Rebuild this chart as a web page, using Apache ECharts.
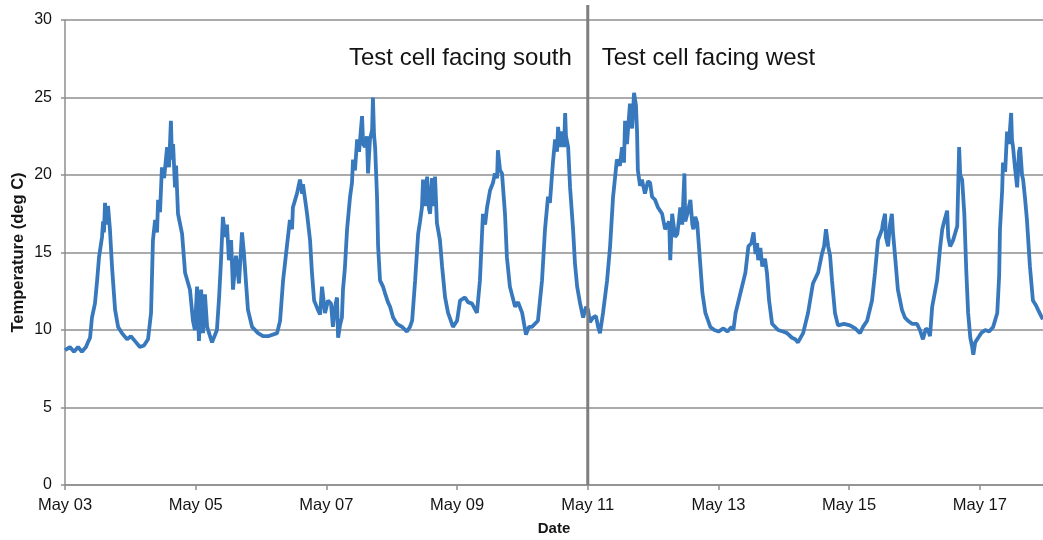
<!DOCTYPE html>
<html>
<head>
<meta charset="utf-8">
<script src="https://cdn.jsdelivr.net/npm/echarts@6/dist/echarts.min.js"></script>
<style>
  html, body { margin: 0; padding: 0; background: #fff; }
  #chart { width: 1043px; height: 540px; }
</style>
</head>
<body>
<div id="chart"></div>
<script>
// hours since May 03 00:00
const hours = [
  0, 1.8, 3.3, 4.8, 6.2, 7.7, 8.4, 9.2, 9.9, 11.0, 11.8, 12.5, 13.6, 14.0, 14.3, 14.7, 15.4, 15.8, 16.5, 17.3,
  18.4, 19.5, 20.9, 22.8, 24.2, 26.1, 27.5, 29.0, 30.5, 31.6, 32.3, 33.1, 33.8, 34.2, 34.9, 35.6, 36.4, 37.5, 38.2, 38.9,
  39.3, 39.7, 40.4, 40.8, 41.5, 43.0, 44.1, 45.9, 47.0, 47.7, 48.5, 49.2, 50.0, 50.7, 51.4, 52.2, 54.0, 55.8, 56.6, 57.3,
  58.0, 58.8, 59.5, 60.2, 61.0, 61.7, 62.8, 63.9, 65.0, 65.7, 66.1, 67.2, 68.7, 70.9, 72.7, 74.6, 77.9, 79.0, 80.1, 81.5,
  82.6, 83.4, 83.7, 85.2, 86.3, 87.1, 87.4, 88.2, 88.9, 90.0, 90.7, 91.5, 92.9, 93.7, 94.4, 95.5, 96.6, 97.7, 98.4, 99.2,
  99.9, 100.3, 101.0, 101.7, 102.1, 102.8, 103.6, 104.7, 105.4, 105.8, 106.5, 107.3, 108.0, 109.1, 109.5, 110.2, 110.9, 111.3, 112.0, 112.8,
  113.1, 113.5, 113.9, 114.6, 115.0, 115.7, 116.8, 117.5, 118.6, 119.4, 120.5, 121.9, 123.8, 125.6, 126.7, 127.5, 128.6, 129.7, 130.4, 131.1,
  131.5, 132.2, 133.0, 133.7, 134.1, 134.8, 135.5, 135.9, 136.6, 137.7, 138.5, 139.6, 140.7, 142.5, 144.0, 145.1, 146.9, 148.0, 149.5, 151.3,
  152.4, 153.5, 154.3, 155.0, 156.1, 157.2, 157.9, 158.7, 159.0, 159.8, 160.5, 161.6, 162.3, 163.4, 165.3, 166.4, 167.9, 169.3, 170.4, 171.5,
  173.7, 175.2, 176.3, 177.4, 178.1, 179.2, 180.0, 180.7, 181.1, 181.8, 182.5, 183.3, 183.7, 184.0, 184.8, 185.5, 186.6, 187.3, 188.1, 189.2,
  190.3, 191.4, 192.1, 192.8, 193.9, 195.0, 195.8, 196.5, 197.6, 199.1, 200.2, 201.3, 202.7, 203.8, 204.6, 205.3, 205.7, 206.4, 207.5, 208.3,
  209.0, 209.7, 210.1, 210.4, 211.2, 211.9, 213.0, 214.1, 214.9, 215.6, 216.7, 217.8, 219.3, 220.4, 221.1, 221.9, 222.3, 223.0, 224.1, 224.9,
  226.0, 226.7, 227.5, 227.8, 228.6, 229.7, 230.4, 230.8, 231.5, 232.2, 233.3, 234.1, 235.2, 237.0, 238.5, 240.0, 241.8, 243.3, 244.8, 245.5,
  246.3, 248.1, 249.9, 251.0, 252.1, 252.9, 253.6, 254.2, 254.6, 255.4, 256.1, 257.1, 257.8, 258.6, 259.7, 261.9, 263.7, 265.2, 267.0, 268.2,
  269.2, 271.1, 272.9, 274.7, 276.6, 278.0, 278.8, 279.5, 280.3, 281.0, 281.7, 282.8, 283.9, 286.1, 288.3, 290.2, 292.0, 293.1, 294.6, 296.4,
  297.5, 298.6, 299.3, 300.1, 300.4, 301.2, 301.5, 302.3, 303.0, 303.7, 304.1, 304.8, 305.9, 307.4, 308.5, 309.6, 311.1, 312.9, 314.0, 315.1,
  316.2, 317.0, 317.7, 318.5, 320.3, 321.4, 322.2, 322.9, 324.0, 324.4, 325.1, 326.2, 327.7, 328.4, 328.8, 329.5, 330.3, 331.0, 331.7, 332.5,
  333.2, 333.6, 334.3, 335.4, 336.5, 338.0, 339.4, 340.9, 342.4, 343.1, 343.4, 344.2, 344.5, 345.3, 346.0, 346.7, 347.5, 347.8, 348.2, 348.9,
  349.7, 350.4, 350.8, 351.5, 351.9, 352.6, 353.3, 354.4, 355.5, 356.6, 357.4, 358.8, 359.2
];

// temperature (deg C)
const temps = [
  8.7, 8.9, 8.6, 8.9, 8.6, 8.9, 9.2, 9.5, 10.8, 11.7, 13.2, 14.7, 16.0, 17.0, 16.3, 18.2, 16.8, 18.0, 16.5, 14.0,
  11.3, 10.2, 9.8, 9.4, 9.6, 9.2, 8.9, 9.0, 9.4, 11.1, 15.8, 17.1, 16.3, 18.4, 17.6, 20.5, 19.8, 21.8, 20.5, 23.5,
  21.0, 22.0, 19.2, 20.6, 17.5, 16.2, 13.7, 12.6, 10.6, 10.0, 12.8, 9.3, 12.6, 9.8, 12.3, 10.2, 9.2, 10.0, 12.1, 14.5,
  17.3, 16.0, 16.8, 14.5, 15.8, 12.6, 14.8, 13.0, 16.3, 15.0, 14.0, 11.3, 10.2, 9.8, 9.6, 9.6, 9.8, 10.6, 13.2, 15.4,
  17.1, 16.5, 17.9, 18.8, 19.7, 18.8, 19.4, 18.4, 17.5, 15.8, 13.7, 11.9, 11.3, 11.0, 12.8, 11.1, 11.9, 11.7, 10.2, 11.5,
  12.1, 9.5, 10.3, 10.8, 12.6, 14.0, 16.5, 18.6, 19.5, 21.0, 20.3, 22.3, 21.5, 23.8, 22.0, 21.8, 22.5, 20.1, 22.3, 22.9,
  25.0, 22.6, 21.8, 18.6, 15.4, 13.2, 12.8, 12.4, 11.8, 11.5, 10.8, 10.4, 10.2, 9.9, 10.2, 10.6, 13.2, 16.2, 17.0, 17.9,
  19.7, 18.0, 19.9, 17.8, 17.5, 19.8, 18.0, 19.9, 16.9, 15.8, 14.1, 12.1, 11.1, 10.2, 10.6, 11.9, 12.1, 11.8, 11.7, 11.1,
  13.2, 17.5, 16.8, 17.9, 19.0, 19.5, 20.1, 19.8, 21.6, 20.3, 20.1, 17.5, 14.7, 12.8, 11.5, 11.8, 11.1, 9.7, 10.2, 10.2,
  10.6, 13.2, 16.5, 18.6, 18.2, 20.8, 22.3, 21.5, 23.1, 21.8, 22.8, 21.8, 24.0, 22.5, 21.8, 19.2, 16.5, 14.3, 12.8, 11.7,
  10.8, 11.5, 11.3, 10.5, 10.8, 10.9, 10.2, 9.8, 11.1, 13.2, 15.4, 18.6, 21.0, 20.6, 21.8, 20.8, 23.5, 22.0, 24.6, 23.0,
  25.3, 24.5, 22.8, 20.3, 19.3, 19.7, 18.8, 19.6, 19.5, 18.6, 18.4, 17.9, 17.5, 16.5, 16.5, 17.0, 14.5, 17.5, 16.0, 16.2,
  17.9, 16.8, 20.1, 17.0, 17.5, 18.4, 16.8, 16.5, 17.3, 16.9, 14.3, 12.4, 11.1, 10.2, 10.0, 9.9, 10.1, 9.9, 10.2, 10.0,
  11.1, 12.4, 13.7, 15.4, 15.6, 16.3, 14.9, 15.6, 14.5, 15.3, 14.1, 14.6, 13.7, 11.9, 10.4, 10.0, 9.9, 9.8, 9.5, 9.4,
  9.2, 9.8, 11.1, 13.0, 13.7, 14.9, 15.4, 16.5, 15.4, 14.8, 13.2, 11.1, 10.3, 10.4, 10.3, 10.1, 9.8, 10.2, 10.6, 11.9,
  13.7, 15.8, 15.8, 16.5, 16.9, 17.5, 16.0, 15.4, 16.8, 17.5, 16.3, 14.9, 12.6, 11.3, 10.8, 10.6, 10.4, 10.4, 10.0, 9.4,
  10.1, 10.0, 9.6, 11.5, 13.2, 15.3, 16.5, 17.0, 17.7, 16.0, 15.4, 15.8, 16.7, 21.8, 20.0, 19.7, 17.5, 13.9, 11.1, 9.5,
  8.9, 8.4, 9.2, 9.5, 9.8, 10.0, 9.9, 10.2, 11.1, 13.5, 16.5, 19.0, 20.8, 20.2, 22.8, 22.0, 24.0, 22.3, 21.8, 20.5,
  19.2, 21.5, 21.8, 20.0, 19.7, 18.5, 17.1, 14.1, 11.9, 11.6, 11.3, 10.8, 10.7
];

const tickLabels = ["May 03", "May 05", "May 07", "May 09", "May 11", "May 13", "May 15", "May 17"];
const dividerHour = 192; // May 11 00:00
const notes = ["Test cell facing south", "Test cell facing west"];

const FONT = "Liberation Sans, Arial, sans-serif";
const GRID_GRAY = "#8f8f8f";
const INK = "#141414";

const chart = echarts.init(document.getElementById("chart"), null, { renderer: "canvas" });
const xMax = hours[hours.length - 1];

chart.setOption({
  animation: false,
  textStyle: { fontFamily: FONT },
  grid: [
    { left: 65, right: 0, top: 20, bottom: 55, outerBoundsMode: "none" },
    { left: 65, right: 0, top: 5, bottom: 55, outerBoundsMode: "none" },
  ],
  xAxis: [
    {
      type: "value",
      gridIndex: 0,
      min: 0,
      max: xMax,
      interval: 48,
      name: "Date",
      nameLocation: "middle",
      nameGap: 36,
      nameTextStyle: { fontWeight: "bold", fontSize: 15, color: INK, fontFamily: FONT },
      axisLine: { lineStyle: { color: GRID_GRAY, width: 1.5 } },
      axisTick: { show: true, length: 5, lineStyle: { color: GRID_GRAY, width: 1.5 } },
      axisLabel: {
        color: INK,
        fontSize: 16.5,
        margin: 12,
        showMaxLabel: false,
        formatter: (v) => tickLabels[Math.round(v / 48)] || "",
      },
      splitLine: { show: false },
    },
    { type: "value", gridIndex: 1, min: 0, max: xMax, show: false },
  ],
  yAxis: [
    {
      type: "value",
      gridIndex: 0,
      min: 0,
      max: 30,
      interval: 5,
      name: "Temperature (deg C)",
      nameLocation: "middle",
      nameGap: 38,
      nameMoveOverlap: false,
      nameTextStyle: { fontWeight: "bold", fontSize: 16.5, color: INK, fontFamily: FONT },
      axisLine: { show: true, lineStyle: { color: GRID_GRAY, width: 1.5 } },
      axisTick: { show: true, length: 4, lineStyle: { color: GRID_GRAY, width: 1.5 } },
      axisLabel: { color: INK, fontSize: 16, margin: 13 },
      splitLine: { lineStyle: { color: GRID_GRAY, width: 1.5 } },
    },
    { type: "value", gridIndex: 1, min: 0, max: 1, show: false },
  ],
  series: [
    {
      name: "Temperature",
      type: "line",
      xAxisIndex: 0,
      yAxisIndex: 0,
      showSymbol: false,
      lineStyle: { color: "#3879be", width: 3.8 },
      data: hours.map((h, i) => [h, temps[i]]),
      z: 3,
    },
    {
      name: "divider",
      type: "line",
      xAxisIndex: 1,
      yAxisIndex: 1,
      showSymbol: false,
      silent: true,
      lineStyle: { color: "#7f7f7f", width: 3 },
      data: [[dividerHour, 0], [dividerHour, 1]],
      z: 4,
    },
  ],
});

// the two notes sit either side of the divider
const dx = chart.convertToPixel({ xAxisIndex: 0 }, dividerHour);
chart.setOption({
  graphic: [
    {
      type: "text",
      x: dx - 16,
      y: 58,
      style: { text: notes[0], fill: INK, font: "24px " + FONT, align: "right", verticalAlign: "middle" },
    },
    {
      type: "text",
      x: dx + 14,
      y: 58,
      style: { text: notes[1], fill: INK, font: "24px " + FONT, align: "left", verticalAlign: "middle" },
    },
  ],
});
</script>
</body>
</html>
